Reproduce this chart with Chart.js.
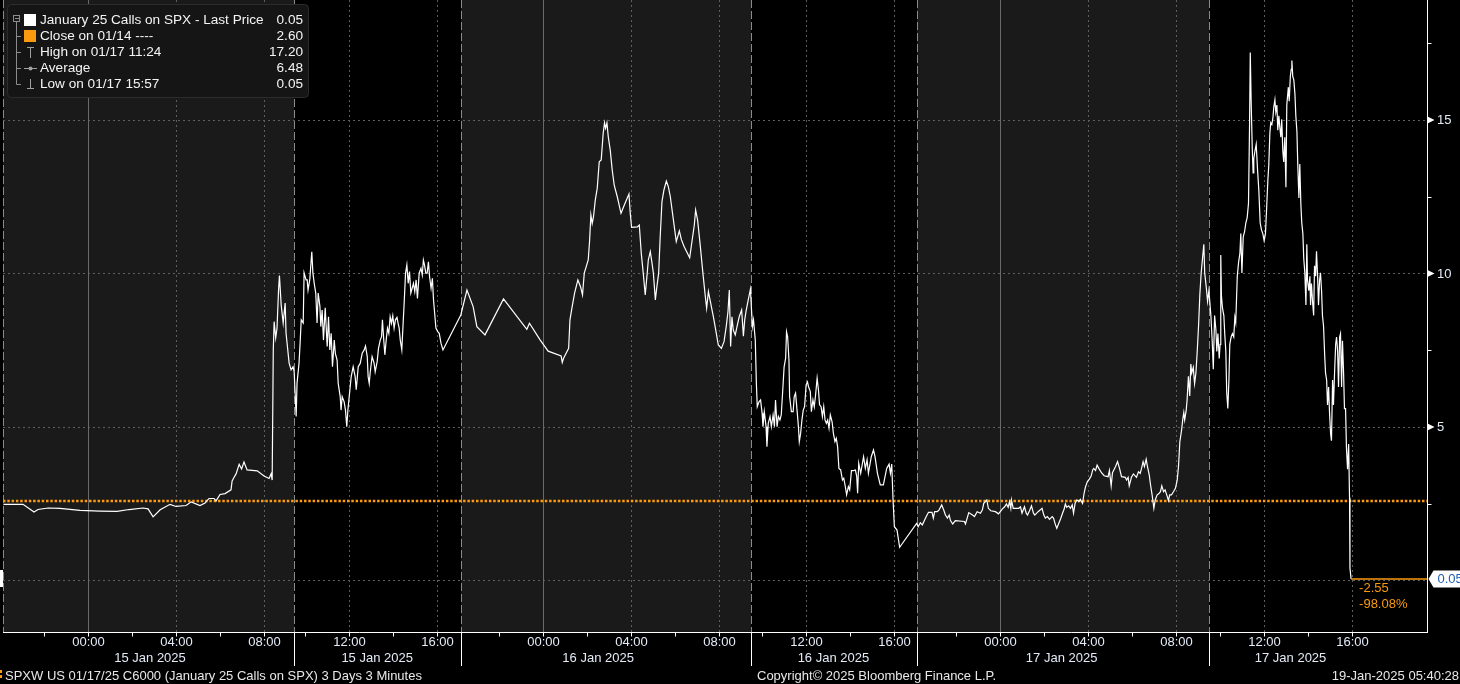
<!DOCTYPE html>
<html><head><meta charset="utf-8">
<script src="https://cdn.jsdelivr.net/npm/chart.js@4.4.1/dist/chart.umd.min.js"></script>
<style>html,body{margin:0;padding:0;background:#000;overflow:hidden}canvas{display:block}</style>
</head><body>
<canvas id="c" width="1460" height="684"></canvas>
<script>
// ---- axis / session definitions (time axis = trading-chart hours since 14 Jan 20:15) ----
const sessionStart = [0, 13.13, 20.7, 33.9, 41.45, 54.7];
const sessionOpenHour = [20.25, 9.5, 20.25, 9.5, 20.25, 9.5];
const sessionLength = [13, 7.5, 13.25, 7.5, 13.25, 6.75];
const sessionShaded = [true, false, true, false, true, false];
const sessionDateLabels = ["15 Jan 2025", "15 Jan 2025", "16 Jan 2025", "16 Jan 2025", "17 Jan 2025", "17 Jan 2025"];
const sessionDateLabelAt = [6.58, 16.9, 26.94, 37.63, 48.0, 58.4];
const xRange = [-0.1, 64.6];
const yRange = [-1.68, 18.91];
const yGridTicks = [0, 5, 10, 15];
const yTickLabels = ["", "5", "10", "15"];
const yMinorTicks = [2.5, 7.5, 12.5, 17.5];

const closePrice = 2.60;
const lastPrice = 0.05;
const changeLabels = ["-2.55", "-98.08%"];
const legendLabels = ["January 25 Calls on SPX - Last Price", "Close on 01/14 ----", "High on 01/17 11:24", "Average", "Low on 01/17 15:57"];
const legendValues = ["0.05", "2.60", "17.20", "6.48", "0.05"];
const footerLeft = "SPXW US 01/17/25 C6000 (January 25 Calls on SPX) 3 Days 3 Minutes";
const footerMid = "Copyright\u00A9 2025 Bloomberg Finance L.P.";
const footerRight = "19-Jan-2025 05:40:28";

// ---- price series: [chart hour, last price] ----
const jan15Overnight = [[-0.08,2.48],[0.81,2.48],[1.31,2.23],[1.49,2.31],[1.95,2.36],[2.49,2.35],[3.40,2.28],[4.31,2.26],[5.08,2.25],[5.63,2.31],[6.26,2.36],[6.49,2.33],[6.72,2.07],[7.04,2.30],[7.49,2.48],[7.76,2.41],[8.22,2.44],[8.45,2.56],[8.85,2.44],[9.08,2.52],[9.26,2.67],[9.49,2.67],[9.58,2.59],[9.76,2.80],[9.99,2.83],[10.26,2.95],[10.31,3.24],[10.40,3.36],[10.49,3.47],[10.63,3.78],[10.74,3.63],[10.85,3.86],[10.99,3.60],[11.45,3.57],[11.76,3.40],[11.99,3.32],[12.08,3.47],[12.13,3.27],[12.18,7.51],[12.22,8.43],[12.29,7.90],[12.35,8.22],[12.42,9.46],[12.46,9.93],[12.54,8.97],[12.63,8.39],[12.72,9.04],[12.76,8.06],[12.90,7.08],[12.99,6.86],[13.08,6.96]];
const jan15Regular = [[13.13,6.80],[13.22,5.34],[13.26,6.43],[13.35,7.08],[13.40,7.74],[13.45,8.49],[13.54,8.39],[13.58,10.02],[13.67,9.79],[13.72,9.79],[13.76,9.46],[13.84,9.81],[13.93,10.71],[13.98,10.02],[14.04,9.68],[14.11,9.36],[14.17,8.39],[14.22,9.36],[14.30,8.92],[14.34,8.27],[14.40,8.81],[14.46,7.83],[14.54,8.88],[14.63,7.62],[14.69,8.59],[14.75,7.51],[14.81,8.05],[14.87,6.96],[14.95,7.83],[15.00,7.40],[15.08,7.18],[15.13,6.42],[15.22,5.99],[15.26,5.55],[15.31,5.99],[15.40,5.82],[15.46,5.55],[15.52,5.01],[15.57,5.55],[15.63,5.99],[15.72,6.64],[15.81,6.96],[15.90,6.64],[15.95,6.21],[16.04,6.96],[16.13,7.07],[16.22,7.40],[16.31,7.51],[16.37,7.64],[16.45,7.29],[16.49,6.64],[16.54,6.42],[16.58,6.75],[16.67,7.29],[16.76,7.08],[16.81,6.80],[16.90,7.13],[16.96,7.56],[17.04,7.83],[17.10,7.94],[17.14,8.49],[17.20,7.83],[17.25,7.35],[17.31,7.83],[17.37,8.22],[17.43,8.05],[17.49,8.59],[17.55,8.38],[17.61,8.62],[17.67,8.22],[17.73,8.49],[17.80,8.57],[17.85,8.38],[17.90,8.22],[17.95,7.83],[18.02,7.51],[18.08,8.38],[18.13,9.08],[18.19,10.01],[18.25,10.28],[18.31,9.68],[18.37,10.06],[18.43,9.36],[18.49,9.52],[18.55,9.68],[18.61,9.41],[18.67,9.79],[18.73,9.19],[18.81,10.01],[18.89,10.17],[18.95,9.95],[19.00,10.44],[19.05,10.28],[19.11,10.01],[19.17,10.01],[19.23,10.38],[19.28,9.90],[19.35,9.52],[19.41,9.84],[19.46,9.14],[19.50,8.81],[19.57,8.22],[19.66,8.10],[19.72,8.05],[19.80,7.73],[19.89,7.51]];
const jan16Overnight = [[20.70,8.65],[20.98,9.46],[21.26,8.92],[21.43,8.27],[21.80,8.00],[22.64,9.17],[23.70,8.18],[23.82,8.38],[24.31,7.83],[24.67,7.47],[25.26,7.31],[25.31,7.10],[25.37,7.24],[25.60,7.56],[25.66,8.49],[25.76,8.92],[25.87,9.36],[26.02,9.79],[26.14,9.57],[26.23,9.30],[26.31,10.01],[26.49,10.44],[26.55,11.04],[26.61,11.91],[26.67,11.63],[26.73,11.85],[26.81,12.39],[26.90,12.78],[26.99,13.64],[27.08,13.70],[27.17,14.57],[27.23,14.91],[27.28,14.73],[27.34,14.91],[27.40,14.46],[27.49,14.02],[27.58,13.37],[27.67,12.88],[27.81,12.50],[27.98,11.96],[28.13,12.23],[28.34,12.59],[28.40,11.96],[28.46,11.50],[28.72,11.52],[28.81,11.58],[28.90,10.66],[28.99,10.01],[29.08,9.30],[29.17,10.01],[29.22,10.44],[29.31,10.71],[29.39,10.33],[29.45,10.01],[29.54,9.14],[29.61,9.57],[29.69,10.01],[29.76,11.20],[29.84,12.34],[29.93,12.72],[30.04,13.01],[30.13,12.83],[30.22,12.50],[30.37,11.69],[30.49,11.04],[30.63,11.39],[30.72,11.11],[30.85,10.87],[31.10,10.51],[31.17,10.87],[31.31,11.58],[31.37,12.07],[31.46,11.74],[31.57,10.98],[31.70,10.01],[31.81,9.25],[31.87,8.87],[31.95,9.41],[32.04,9.08],[32.19,8.54],[32.31,8.05],[32.40,7.67],[32.54,7.56],[32.66,7.78],[32.76,8.27],[32.84,8.76],[32.90,9.46],[32.96,7.62],[33.02,8.59],[33.08,8.16],[33.17,8.00],[33.25,8.27],[33.35,8.59],[33.46,8.81],[33.54,7.96],[33.60,8.49],[33.67,8.81],[33.76,9.14],[33.86,9.49]];
const jan16Regular = [[33.95,8.27],[34.00,8.49],[34.08,7.83],[34.13,6.42],[34.17,5.66],[34.25,5.82],[34.32,5.88],[34.39,5.45],[34.43,5.01],[34.49,5.50],[34.57,5.01],[34.61,4.36],[34.67,5.12],[34.75,5.34],[34.81,5.01],[34.89,5.39],[34.95,5.01],[35.00,5.88],[35.07,5.01],[35.13,5.34],[35.20,5.23],[35.26,5.39],[35.32,6.10],[35.39,6.96],[35.46,7.24],[35.50,8.10],[35.55,7.94],[35.61,7.18],[35.64,5.99],[35.72,5.50],[35.80,5.50],[35.85,5.99],[35.91,6.10],[35.99,5.45],[36.04,5.01],[36.08,4.52],[36.14,4.79],[36.20,5.23],[36.26,5.55],[36.32,5.66],[36.39,6.37],[36.45,6.47],[36.50,6.31],[36.58,6.15],[36.63,5.50],[36.70,5.88],[36.76,5.66],[36.82,6.04],[36.89,6.59],[36.95,6.21],[37.00,5.72],[37.07,5.66],[37.13,5.34],[37.19,5.66],[37.25,5.23],[37.31,5.12],[37.37,5.23],[37.43,4.96],[37.49,5.39],[37.57,5.17],[37.63,4.79],[37.70,4.52],[37.76,4.63],[37.82,4.36],[37.88,3.65],[37.96,3.60],[38.04,3.27],[38.10,3.33],[38.17,3.06],[38.23,2.79],[38.31,3.06],[38.37,2.95],[38.45,3.58],[38.54,3.58],[38.63,3.60],[38.69,3.38],[38.73,2.84],[38.78,3.82],[38.87,3.49],[38.95,3.82],[39.00,4.03],[39.08,3.65],[39.16,3.93],[39.22,3.49],[39.30,3.82],[39.35,4.03],[39.45,4.25],[39.52,4.03],[39.63,3.49],[39.76,3.11],[39.90,3.11],[40.05,3.65],[40.16,3.79],[40.22,3.49],[40.28,3.79],[40.34,2.62],[40.40,1.75],[40.52,1.64],[40.64,1.08]];
const jan17Overnight = [[41.41,1.86],[41.48,1.75],[41.58,1.88],[41.67,1.81],[41.85,2.08],[41.95,2.22],[42.11,2.22],[42.17,2.03],[42.23,2.24],[42.35,2.24],[42.43,2.30],[42.55,2.46],[42.63,2.32],[42.72,2.13],[42.81,2.03],[42.89,2.13],[42.95,1.95],[43.05,1.84],[43.17,1.95],[43.58,1.92],[43.63,1.84],[43.78,2.21],[43.95,2.13],[44.04,2.08],[44.16,2.24],[44.31,2.19],[44.40,2.30],[44.46,2.51],[44.60,2.62],[44.67,2.35],[44.78,2.27],[44.99,2.24],[45.13,2.17],[45.31,2.33],[45.41,2.40],[45.49,2.49],[45.57,2.38],[45.63,2.57],[45.69,2.35],[45.72,2.62],[45.80,2.35],[46.05,2.35],[46.13,2.40],[46.20,2.19],[46.31,2.40],[46.39,2.19],[46.45,2.13],[46.54,2.27],[46.63,2.43],[46.72,2.19],[46.78,2.13],[46.93,2.24],[47.11,2.35],[47.19,2.13],[47.26,2.03],[47.35,2.08],[47.45,1.99],[47.57,2.08],[47.63,2.03],[47.72,1.81],[47.78,1.70],[47.87,1.86],[47.95,2.00],[48.04,2.19],[48.11,2.32],[48.17,2.49],[48.23,2.38],[48.32,2.43],[48.40,2.35],[48.48,2.46],[48.54,2.19],[48.61,2.51],[48.69,2.62],[48.78,2.57],[48.85,2.64],[48.95,2.51],[49.02,2.84],[49.08,3.04],[49.17,3.22],[49.26,3.30],[49.34,3.40],[49.41,3.60],[49.46,3.65],[49.54,3.58],[49.61,3.76],[49.69,3.65],[49.81,3.51],[49.93,3.41],[50.11,3.38],[50.17,3.58],[50.25,3.08],[50.31,3.51],[50.45,3.71],[50.54,3.87],[50.63,3.65],[50.72,3.38],[50.89,3.36],[50.95,3.27],[51.02,3.36],[51.07,3.08],[51.17,3.36],[51.26,3.47],[51.40,3.36],[51.49,3.54],[51.57,3.49],[51.63,3.65],[51.70,3.87],[51.76,3.71],[51.84,3.95],[51.90,3.71],[51.98,3.44],[52.04,3.11],[52.11,2.79],[52.19,2.35],[52.25,2.62],[52.34,2.79],[52.41,2.82],[52.49,2.89],[52.55,3.08],[52.63,2.89],[52.70,2.95],[52.80,2.73],[52.85,2.60],[52.91,2.79],[52.99,2.79],[53.08,2.89],[53.17,3.00],[53.25,3.27],[53.31,3.71],[53.37,4.52],[53.45,4.90],[53.50,5.23],[53.55,5.47],[53.59,5.23],[53.66,5.55],[53.70,5.88],[53.76,6.65],[53.82,6.01],[53.87,7.05],[53.91,6.76],[53.98,6.94],[54.04,6.41],[54.10,6.76],[54.16,7.46],[54.22,8.28],[54.28,9.32],[54.34,10.02],[54.40,10.49],[54.46,10.95],[54.50,10.02],[54.57,9.56],[54.63,9.09]];
const jan17Regular = [[54.69,9.44],[54.73,9.09],[54.78,8.63],[54.84,7.81],[54.89,6.88],[54.95,8.63],[55.01,8.16],[55.05,7.46],[55.10,8.04],[55.16,7.23],[55.20,7.69],[55.23,10.60],[55.26,9.27],[55.31,8.86],[55.37,8.63],[55.41,8.04],[55.46,7.46],[55.50,6.12],[55.55,5.60],[55.60,6.53],[55.64,7.69],[55.70,7.93],[55.76,8.04],[55.82,7.93],[55.87,8.57],[55.91,8.40],[55.98,9.91],[56.04,10.37],[56.10,10.66],[56.14,11.30],[56.19,10.02],[56.25,11.19],[56.31,11.36],[56.37,11.65],[56.43,11.82],[56.49,12.29],[56.54,14.97],[56.57,17.20],[56.61,15.61],[56.66,14.09],[56.70,13.28],[56.73,13.74],[56.78,13.98],[56.84,14.21],[56.90,13.39],[56.96,12.70],[57.02,11.65],[57.08,11.42],[57.14,11.30],[57.20,11.07],[57.26,11.30],[57.32,12.23],[57.37,13.05],[57.41,13.51],[57.46,14.56],[57.50,14.91],[57.55,14.85],[57.60,15.08],[57.64,15.43],[57.69,15.66],[57.73,15.26],[57.78,15.49],[57.82,14.67],[57.87,15.14],[57.91,14.79],[57.96,14.44],[58.00,15.02],[58.05,13.98],[58.09,13.63],[58.14,14.44],[58.19,12.81],[58.23,15.49],[58.30,16.07],[58.34,15.61],[58.39,16.42],[58.43,16.65],[58.46,16.94],[58.50,16.42],[58.55,16.30],[58.60,15.84],[58.64,15.14],[58.69,14.62],[58.73,13.51],[58.78,12.46],[58.82,13.57],[58.87,12.23],[58.91,11.65],[58.96,11.30],[59.00,10.49],[59.05,10.02],[59.10,8.97],[59.14,10.95],[59.17,9.79],[59.23,9.44],[59.28,9.91],[59.31,8.97],[59.35,9.67],[59.40,9.09],[59.45,8.63],[59.49,10.25],[59.54,9.91],[59.58,10.72],[59.63,9.91],[59.67,8.97],[59.72,9.79],[59.76,10.02],[59.81,9.44],[59.85,8.63],[59.90,8.28],[59.95,7.35],[59.99,6.76],[60.04,6.53],[60.08,5.72],[60.13,6.30],[60.17,5.49],[60.22,4.79],[60.26,4.55],[60.31,6.53],[60.35,5.72],[60.40,6.76],[60.45,7.69],[60.49,7.93],[60.54,7.46],[60.58,6.30],[60.63,7.93],[60.67,8.04],[60.72,6.30],[60.76,7.81],[60.81,6.76],[60.85,5.60],[60.90,5.60],[60.94,4.32],[60.99,3.62],[61.04,4.44],[61.08,2.69],[61.10,0.40],[61.15,0.05]];

const pricePoints = [].concat(jan15Overnight, jan15Regular, jan16Overnight, jan16Regular, jan17Overnight, jan17Regular).map(p => ({x: p[0], y: p[1]}));

// ---- style ----
const FONT = '"Liberation Sans", Arial, sans-serif';
const ORANGE = '#fb9a0e';
const LABEL = '#e4ebf7';

function txt(ctx, s, x, y, color, align, size, family) {
  ctx.font = (size || 13) + 'px ' + (family || FONT);
  ctx.fillStyle = color; ctx.textAlign = align || 'left'; ctx.textBaseline = 'middle';
  ctx.fillText(s, x, y);
}
function vline(ctx, x, y0, y1, color, dash, w) {
  ctx.save(); ctx.strokeStyle = color; ctx.lineWidth = w || 1; ctx.setLineDash(dash || []);
  ctx.beginPath(); ctx.moveTo(x, y0); ctx.lineTo(x, y1); ctx.stroke(); ctx.restore();
}
function hline(ctx, x0, x1, y, color, dash, w) {
  ctx.save(); ctx.strokeStyle = color; ctx.lineWidth = w || 1; ctx.setLineDash(dash || []);
  ctx.beginPath(); ctx.moveTo(x0, y); ctx.lineTo(x1, y); ctx.stroke(); ctx.restore();
}
function sessionTicks() {
  const out = [];
  for (let i = 0; i < sessionStart.length; i++) {
    const open = sessionOpenHour[i];
    for (let h = Math.ceil(open / 2) * 2; h - open <= sessionLength[i]; h += 2) {
      out.push({t: sessionStart[i] + (h - open), clock: h % 24});
    }
  }
  return out;
}
const px = v => Math.round(v) + 0.5;

const bloombergFrame = {
  id: 'bloombergFrame',
  beforeDraw(chart) {
    const {ctx, chartArea: a, scales: {x, y}} = chart;
    ctx.save();
    ctx.fillStyle = '#000'; ctx.fillRect(0, 0, chart.width, chart.height);
    for (let i = 0; i < sessionStart.length; i++) {
      if (!sessionShaded[i]) continue;
      const x0 = x.getPixelForValue(i === 0 ? xRange[0] : sessionStart[i]);
      const x1 = x.getPixelForValue(i < sessionStart.length - 1 ? sessionStart[i + 1] : xRange[1]);
      ctx.fillStyle = '#1a1a1a';
      ctx.fillRect(Math.round(x0), a.top, Math.round(x1) - Math.round(x0), a.bottom - a.top);
    }
    yGridTicks.forEach(v => hline(ctx, a.left, a.right, px(y.getPixelForValue(v)), '#5e5e5e', [2, 3]));
    sessionTicks().forEach(tk => {
      if (tk.clock % 4 !== 0) return;
      const X = px(x.getPixelForValue(tk.t));
      if (tk.clock === 0) vline(ctx, X, a.top, a.bottom, '#6a6a6a');
      else vline(ctx, X, a.top, a.bottom, '#5e5e5e', [2, 3]);
    });
    sessionStart.forEach((s, i) => {
      const X = px(x.getPixelForValue(i === 0 ? xRange[0] : s));
      vline(ctx, X, a.top, a.bottom, '#8a8a8a', [8, 3]);
    });
    hline(ctx, a.left, a.right, Math.round(y.getPixelForValue(closePrice)), ORANGE, [2.5, 1.8], 2.5);
    ctx.restore();
  },
  afterDatasetsDraw(chart) {
    const {ctx, chartArea: a, scales: {x, y}} = chart;
    ctx.save();
    const lastX = x.getPixelForValue(pricePoints[pricePoints.length - 1].x);
    const lastY = Math.round(y.getPixelForValue(lastPrice));
    hline(ctx, lastX, a.right, lastY, ORANGE, [], 1.6);
    txt(ctx, changeLabels[0], lastX + 8, lastY + 9, ORANGE, 'left', 13);
    txt(ctx, changeLabels[1], lastX + 8, lastY + 25, ORANGE, 'left', 13);

    vline(ctx, px(a.right), a.top, a.bottom, '#ffffff');
    hline(ctx, a.left, a.right + 1, px(a.bottom), '#ffffff');
    const ax = px(a.right);
    yGridTicks.forEach((v, i) => {
      const Y = y.getPixelForValue(v);
      if (yTickLabels[i] === '') return;
      ctx.fillStyle = '#ffffff';
      ctx.beginPath(); ctx.moveTo(ax, Y - 3.5); ctx.lineTo(ax + 7, Y); ctx.lineTo(ax, Y + 3.5); ctx.closePath(); ctx.fill();
      txt(ctx, yTickLabels[i], a.right + 10, Y + 0.5, LABEL, 'left', 13);
    });
    yMinorTicks.forEach(v => hline(ctx, ax, ax + 4, px(y.getPixelForValue(v)), '#ffffff'));

    const by = px(a.bottom);
    sessionTicks().forEach(tk => {
      const X = px(x.getPixelForValue(tk.t));
      vline(ctx, X, by, by + 4, '#ffffff');
      if (tk.clock % 4 === 0) {
        txt(ctx, String(tk.clock).padStart(2, '0') + ':00', X, 642, LABEL, 'center', 13);
      }
    });
    sessionStart.forEach((s, i) => {
      if (i === 0) return;
      vline(ctx, px(x.getPixelForValue(s)), by, 666, '#ffffff');
    });
    sessionDateLabels.forEach((lab, i) => {
      txt(ctx, lab, x.getPixelForValue(sessionDateLabelAt[i]), 658, LABEL, 'center', 13);
    });

    ctx.fillStyle = '#ffffff';
    ctx.beginPath();
    ctx.moveTo(ax + 1, lastY); ctx.lineTo(ax + 6, lastY - 8.5); ctx.lineTo(1460, lastY - 8.5);
    ctx.lineTo(1460, lastY + 8.5); ctx.lineTo(ax + 6, lastY + 8.5); ctx.closePath(); ctx.fill();
    txt(ctx, legendValues[0], ax + 10, lastY + 0.5, '#1d5eb3', 'left', 13);
    ctx.fillStyle = '#ffffff'; ctx.fillRect(0, lastY - 9, 3, 17);

    // legend box
    ctx.fillStyle = '#151515'; ctx.strokeStyle = '#2c2c2c'; ctx.lineWidth = 1;
    ctx.beginPath(); ctx.roundRect(7.5, 4.5, 301, 93, 4); ctx.fill(); ctx.stroke();
    const rowY = [20, 36, 52, 68, 84];
    ctx.strokeStyle = '#8c8c8c';
    ctx.strokeRect(13.5, 15.5, 6, 6);
    hline(ctx, 15, 19, 18.5, '#8c8c8c');
    vline(ctx, 16.5, 22, rowY[4] + 0.5, '#8c8c8c');
    for (let r = 1; r < 5; r++) hline(ctx, 16.5, 21, rowY[r] + 0.5, '#8c8c8c');
    ctx.fillStyle = '#ffffff'; ctx.fillRect(24, 14, 12, 12);
    ctx.fillStyle = ORANGE; ctx.fillRect(24, 30, 12, 12);
    vline(ctx, 30.5, rowY[2] - 5, rowY[2] + 6, '#a0a0a0');
    hline(ctx, 27, 34, rowY[2] - 4.5, '#a0a0a0');
    hline(ctx, 24, 37, rowY[3] + 0.5, '#a0a0a0');
    ctx.fillStyle = '#a0a0a0'; ctx.beginPath(); ctx.arc(30.5, rowY[3] + 0.5, 2, 0, Math.PI * 2); ctx.fill();
    vline(ctx, 30.5, rowY[4] - 5, rowY[4] + 5, '#a0a0a0');
    hline(ctx, 27, 34, rowY[4] + 4.5, '#a0a0a0');
    legendLabels.forEach((l, i) => {
      txt(ctx, l, 40, rowY[i], '#f4f4f4', 'left', 13.6);
      txt(ctx, legendValues[i], 303, rowY[i], '#f4f4f4', 'right', 13.6);
    });

    // footer
    ctx.fillStyle = ORANGE; ctx.fillRect(0, 670, 2, 3); ctx.fillRect(0, 675, 2, 3);
    txt(ctx, footerLeft, 5, 676, '#e8e8e8', 'left', 13);
    txt(ctx, footerMid, 757, 676, '#e8e8e8', 'left', 13);
    txt(ctx, footerRight, 1459, 676, '#e8e8e8', 'right', 13);
    ctx.restore();
  }
};

new Chart(document.getElementById('c'), {
  type: 'line',
  data: {
    datasets: [{
      label: legendLabels[0],
      data: pricePoints,
      borderColor: '#ffffff',
      borderWidth: 1.2,
      pointRadius: 0,
      tension: 0,
      fill: false
    }]
  },
  options: {
    responsive: false,
    animation: false,
    devicePixelRatio: 1,
    parsing: false,
    normalized: true,
    layout: {padding: {left: 3, right: 33, top: 0, bottom: 52}},
    plugins: {legend: {display: false}, tooltip: {enabled: false}},
    scales: {
      x: {type: 'linear', min: xRange[0], max: xRange[1], display: false},
      y: {type: 'linear', min: yRange[0], max: yRange[1], display: false}
    }
  },
  plugins: [bloombergFrame]
});
</script>
</body></html>
